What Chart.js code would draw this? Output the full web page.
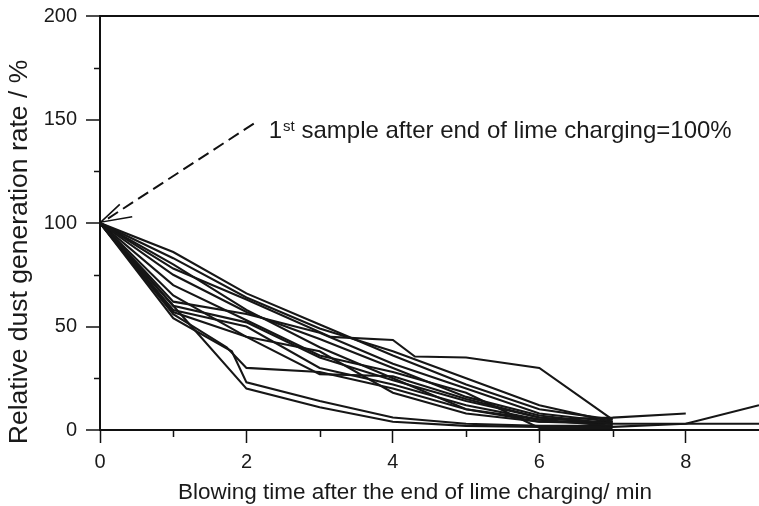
<!DOCTYPE html>
<html>
<head>
<meta charset="utf-8">
<script src="https://cdn.jsdelivr.net/npm/chart.js@4.4.0/dist/chart.umd.min.js"></script>
<style>
  html, body { margin: 0; padding: 0; background: #fff; }
  canvas { display: block; }
</style>
</head>
<body>
<canvas id="dust" width="759" height="506"></canvas>
<script>
// Relative dust generation after the end of lime charging, one curve per heat.
// Each entry: [blowing time / min, relative dust generation rate / %]
const heat01 = [[0,100],[1,86],[2,66],[3,51],[4,36],[5,22],[6,10],[7,5]];
const heat02 = [[0,100],[1,83],[2,64],[3,49],[4,38],[5,25],[6,12],[7,4]];
const heat03 = [[0,100],[1,78],[2,63],[3.15,45],[4,43.5],[4.3,35.5],[5,35],[6,30],[7,5]];
const heat04 = [[0,100],[1,75],[2,57],[3,44],[4,30],[5,16],[6,7],[7,3]];
const heat05 = [[0,100],[1,62],[2,56],[3,47],[4,32],[5,20],[6,8],[7,4]];
const heat06 = [[0,100],[1,60],[2,52],[3,35],[4,24],[5,14],[6,6],[7,3]];
const heat07 = [[0,100],[1,58],[2,50],[3,30],[4,22],[5,12],[6,5],[7,6],[8,8]];
const heat08 = [[0,100],[1,56],[1.73,40],[2,30],[3,28],[4,20],[5,10],[6,5],[7,2]];
const heat09 = [[0,100],[1,54],[1.8,38],[2,23],[3,14],[4,6],[5,3],[6,2],[7,2]];
const heat10 = [[0,100],[1,60],[2,20],[3,11],[4,4],[5,2],[6,1.5],[7,1.5],[8,3],[9,12]];
const heat11 = [[0,100],[1,65],[2,45],[3,27],[4,26],[5,15],[6,6],[7,3]];
const heat12 = [[0,100],[1,80],[2,58],[3,40],[4,25],[5,10],[6,4],[7,4]];
const heat13 = [[0,100],[1,57],[2,45],[3,38],[4,18],[5,8],[6,4],[7,3],[9,3]];
const heat14 = [[0,100],[1,70],[2,53],[3,36],[4,28],[5,18],[6,1],[7,1]];

const heats = [heat01, heat02, heat03, heat04, heat05, heat06, heat07,
               heat08, heat09, heat10, heat11, heat12, heat13, heat14];

// Axis ticks
const xMajorTicks = [0, 2, 4, 6, 8];
const xMinorTicks = [1, 3, 5, 7];
const yMajorTicks = [0, 50, 100, 150, 200];
const yMinorTicks = [25, 75, 125, 175];

// Texts
const xTitle = 'Blowing time after the end of lime charging/ min';
const yTitle = 'Relative dust generation rate / %';
const noteMain = '1';
const noteSup = 'st';
const noteRest = ' sample after end of lime charging=100%';

// Annotation arrow (data units): dashed shaft and open head pointing at the 100 % start
const arrowShaft = [[2.1, 148], [0.08, 101.5]];
const arrowHead = [[0.27, 109], [0.01, 100.4], [0.44, 103]];

const FONT = '"Liberation Sans", Arial, Helvetica, sans-serif';
const INK = '#111';

const toXY = arr => arr.map(p => ({ x: p[0], y: p[1] }));

const datasets = heats.map(h => ({
  data: toXY(h),
  borderColor: '#161616',
  borderWidth: 2.1,
  pointRadius: 0,
  tension: 0,
  fill: false
}));

datasets.push({
  data: toXY(arrowShaft),
  borderColor: INK,
  borderWidth: 2,
  borderDash: [12, 6],
  pointRadius: 0,
  fill: false
});
datasets.push({
  data: toXY(arrowHead),
  borderColor: INK,
  borderWidth: 1.6,
  pointRadius: 0,
  fill: false
});

// Minor ticks, axis titles and the annotation text
const decorations = {
  id: 'decorations',
  afterDraw(chart) {
    const { ctx, scales: { x, y }, chartArea } = chart;
    ctx.save();
    ctx.strokeStyle = INK;
    ctx.lineWidth = 1.5;
    ctx.beginPath();
    xMinorTicks.forEach(v => {
      const px = Math.round(x.getPixelForValue(v)) + 0.5;
      ctx.moveTo(px, chartArea.bottom);
      ctx.lineTo(px, chartArea.bottom + 7);
    });
    yMinorTicks.forEach(v => {
      const py = Math.round(y.getPixelForValue(v)) + 0.5;
      ctx.moveTo(chartArea.left, py);
      ctx.lineTo(chartArea.left - 6, py);
    });
    ctx.stroke();

    ctx.fillStyle = '#1a1a1a';
    // x title
    ctx.font = '22.5px ' + FONT;
    ctx.textAlign = 'center';
    ctx.textBaseline = 'alphabetic';
    ctx.fillText(xTitle, 415, 499);

    // y title
    ctx.save();
    ctx.translate(27, 252);
    ctx.rotate(-Math.PI / 2);
    ctx.font = '26.5px ' + FONT;
    ctx.textAlign = 'center';
    ctx.fillText(yTitle, 0, 0);
    ctx.restore();

    // annotation text next to the arrow tail
    const tx = x.getPixelForValue(arrowShaft[0][0]) + 15;
    const ty = y.getPixelForValue(arrowShaft[0][1]) + 14;
    ctx.textAlign = 'left';
    ctx.font = '24px ' + FONT;
    ctx.fillText(noteMain, tx, ty);
    let cx = tx + ctx.measureText(noteMain).width;
    ctx.font = '15px ' + FONT;
    ctx.fillText(noteSup, cx + 1, ty - 7);
    cx += ctx.measureText(noteSup).width + 1;
    ctx.font = '24px ' + FONT;
    ctx.fillText(noteRest, cx, ty);
    ctx.restore();
  }
};

new Chart(document.getElementById('dust'), {
  type: 'line',
  data: { datasets },
  plugins: [decorations],
  options: {
    responsive: false,
    animation: false,
    devicePixelRatio: 1,
    layout: { padding: { top: 16, right: 0, bottom: 0, left: 0 } },
    plugins: { legend: { display: false }, tooltip: { enabled: false } },
    scales: {
      x: {
        type: 'linear',
        min: 0,
        max: 9,
        afterFit(s) { s.height = 76; s.paddingLeft = 0; s.paddingRight = 0; },
        afterBuildTicks(s) { s.ticks = xMajorTicks.map(v => ({ value: v })); },
        ticks: {
          includeBounds: false,
          padding: 7,
          color: '#1a1a1a',
          font: { size: 20, family: FONT },
          maxRotation: 0,
          autoSkip: false
        },
        grid: { drawOnChartArea: false, drawTicks: true, tickLength: 13, tickColor: INK, tickWidth: 1.5 },
        border: { display: true, color: INK, width: 2 }
      },
      y: {
        min: 0,
        max: 200,
        afterFit(s) { s.width = 100; s.paddingTop = 0; s.paddingBottom = 0; },
        afterBuildTicks(s) { s.ticks = yMajorTicks.map(v => ({ value: v })); },
        ticks: {
          padding: 9,
          color: '#1a1a1a',
          font: { size: 20, family: FONT }
        },
        grid: {
          drawOnChartArea: true,
          color: c => (c.tick && c.tick.value === 200) ? INK : 'rgba(0,0,0,0)',
          lineWidth: 2,
          drawTicks: true,
          tickLength: 14,
          tickColor: INK,
          tickWidth: 1.5
        },
        border: { display: true, color: INK, width: 2 }
      }
    }
  }
});
</script>
</body>
</html>
